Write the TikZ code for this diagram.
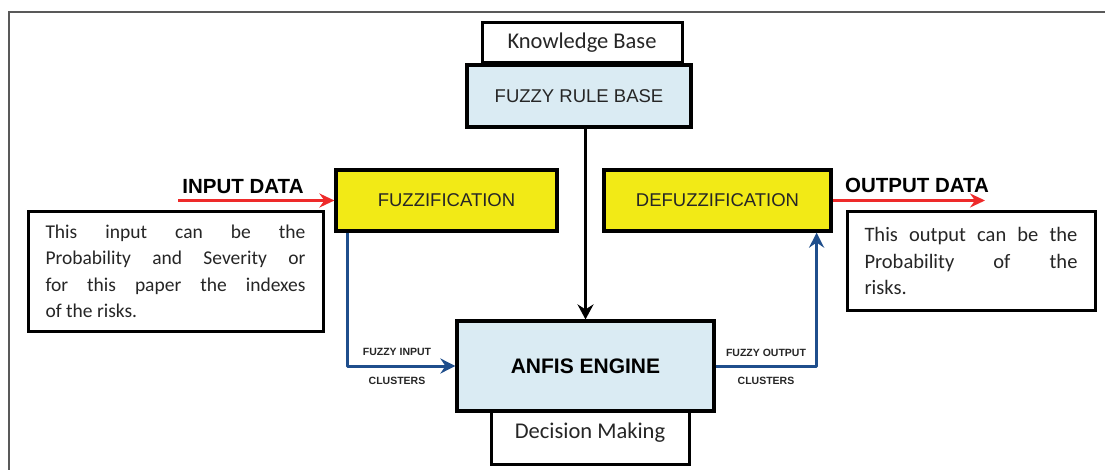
\documentclass[tikz,border=0pt]{standalone}
\usepackage{fontspec}
\setmainfont{Carlito}
\newfontfamily\arialfont{Liberation Sans}
\usetikzlibrary{arrows.meta}

\definecolor{ruleblue}{HTML}{DAEBF3}
\definecolor{fuzzyellow}{HTML}{F2EA16}
\definecolor{linkblue}{HTML}{1F4E8C}
\definecolor{datared}{HTML}{EE2A2A}
\definecolor{textgray}{HTML}{262626}

\tikzset{
  block/.style={draw=black, line width=3.2pt, inner sep=0pt, text=textgray,
    font=\arialfont\fontsize{18.5}{22}\selectfont},
  tagbox/.style={draw=black, line width=3pt, inner sep=0pt, fill=white, text=textgray,
    font=\fontsize{22.5}{26}\selectfont},
  notebox/.style={draw=black, line width=3pt, fill=white, inner sep=0pt, text=textgray,
    align=justify, font=\fontsize{19.5}{26.5}\selectfont},
  datalabel/.style={font=\arialfont\bfseries\fontsize{20.5}{24}\selectfont, inner sep=0pt},
  smalllabel/.style={font=\arialfont\bfseries\fontsize{10.5}{12}\selectfont, text=textgray, inner sep=0pt},
  rulearrow/.style={draw=black, line width=3pt, -{Stealth[length=15pt,width=16pt,inset=5pt]}},
  clusterarrow/.style={draw=linkblue, line width=3pt, line join=round,
    -{Stealth[length=15pt,width=15pt,inset=5pt]}},
  dataarrow/.style={draw=datared, line width=2.6pt, -{Stealth[length=15pt,width=14pt,inset=5pt]}}
}

\begin{document}
\begin{tikzpicture}[x=1pt,y=-1pt]

    \path[use as bounding box, fill=white] (0,0) rectangle (1105,470);

    % Draw the frame
    \draw[gray!70!black, line width=1.3pt] (9,470) -- (9,12) -- (1105,12);

    % Knowledge base on top
    \node[tagbox, minimum width=200pt, minimum height=40pt] (kb) at (582,43) {Knowledge Base};
    \node[block, fill=ruleblue, minimum width=224pt, minimum height=62pt] (frb) at (579,96) {FUZZY RULE BASE};

    % Fuzzification and defuzzification
    \node[block, fill=fuzzyellow, minimum width=221pt, minimum height=61pt] (fuzz) at (446.5,200.5) {FUZZIFICATION};
    \node[block, fill=fuzzyellow, minimum width=227pt, minimum height=61pt] (defuzz) at (717.5,200.5) {DEFUZZIFICATION};

    % Engine and decision making
    \node[tagbox, minimum width=198pt, minimum height=53pt] (dm) at (590,437.5) {};
    \node[tagbox, draw=none, fill=none] (dmtext) at (590,433) {Decision Making};
    \node[block, fill=ruleblue, text=black, minimum width=257pt, minimum height=90pt,
      font=\arialfont\bfseries\fontsize{21}{24}\selectfont] (anfis) at (585.5,366) {ANFIS ENGINE};

    % Notes on input and output
    \node[notebox, minimum width=295pt, minimum height=119pt] (innote) at (175.5,271.5) {%
      \parbox{260pt}{\hyphenpenalty=10000\tolerance=10000\parfillskip=0pt plus 1fil
      This input can be the\linebreak Probability and Severity or\linebreak for this paper the indexes\linebreak of the risks.}};
    \node[notebox, minimum width=248pt, minimum height=98pt,
      font=\fontsize{20.5}{26.5}\selectfont] (outnote) at (971,261) {%
      \parbox{213pt}{\hyphenpenalty=10000\tolerance=10000
      This output can be the\linebreak Probability of the\linebreak risks.}};

    % Input and output data
    \coordinate (indata) at (178,200.5);
    \coordinate (outdata) at (985,200.5);
    \node[datalabel] (inlabel) at (243,187) {INPUT DATA};
    \node[datalabel] (outlabel) at (917,185) {OUTPUT DATA};
    \draw[dataarrow] (indata) -- (fuzz.west);
    \draw[dataarrow] (defuzz.east) -- (outdata);

    % Rule base to engine
    \draw[rulearrow] (frb.south -| anfis.north) -- (anfis.north);

    % Clusters
    \draw[clusterarrow] ([xshift=13pt]fuzz.south west) |- (anfis.west);
    \draw[clusterarrow] (anfis.east) -| ([xshift=-16pt]defuzz.south east);
    \node[smalllabel] (inclusters) at (397,352) {FUZZY INPUT};
    \node[smalllabel] (inclusters2) at (397,381) {CLUSTERS};
    \node[smalllabel] (outclusters) at (766,353) {FUZZY OUTPUT};
    \node[smalllabel] (outclusters2) at (766,381) {CLUSTERS};
\end{tikzpicture}
\end{document}
